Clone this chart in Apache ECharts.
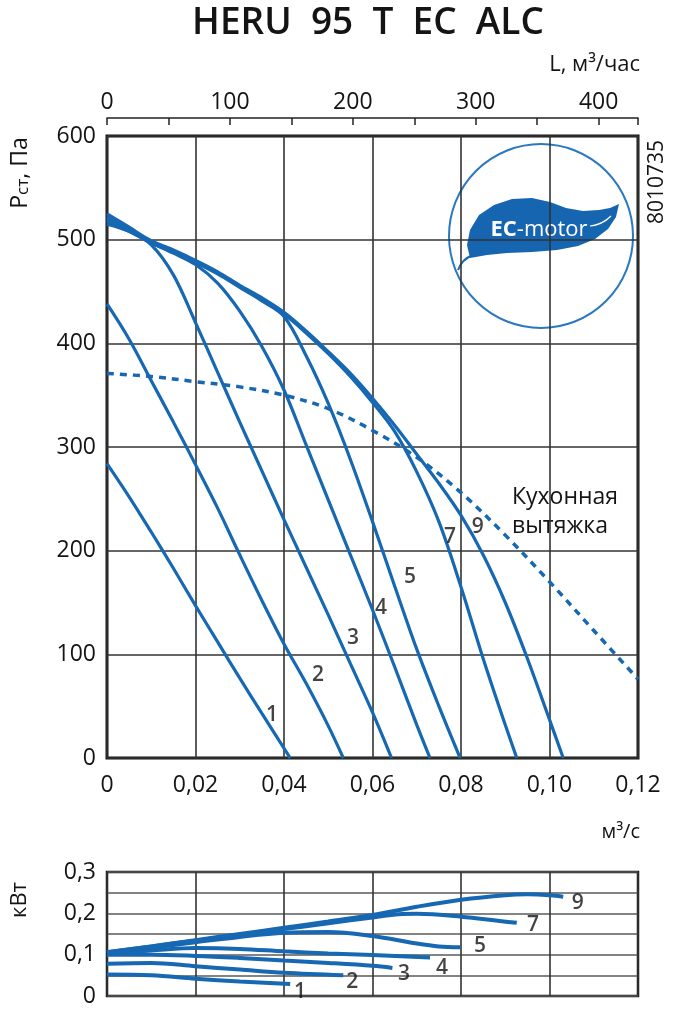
<!DOCTYPE html>
<html>
<head>
<meta charset="utf-8">
<script src="https://cdn.jsdelivr.net/npm/echarts@6/dist/echarts.min.js"></script>
<style>
  html, body { margin: 0; padding: 0; background: #fff; }
  #chart { width: 674px; height: 1022px; }
</style>
</head>
<body>
<div id="chart"></div>
<script>
// ===== HERU 95 T EC ALC fan curves =====

// static pressure, Pa vs flow, m3/s
const pressure1 = [[0, 284], [0.005, 252], [0.01, 218], [0.015, 183], [0.02, 147], [0.025, 112], [0.03, 77], [0.035, 43], [0.0414, 0]];
const pressure2 = [[0, 438], [0.005, 404], [0.01, 364], [0.015, 324], [0.02, 283], [0.025, 241], [0.03, 196], [0.035, 152], [0.04, 110], [0.045, 72], [0.05, 31], [0.0534, 0]];
const pressure3 = [[0, 515], [0.005, 508], [0.01, 495], [0.015, 466], [0.02, 420], [0.025, 372], [0.03, 324], [0.035, 277], [0.04, 230], [0.045, 184], [0.05, 138], [0.055, 91], [0.06, 44], [0.0643, 0]];
const pressure4 = [[0, 518], [0.005, 508], [0.01, 497], [0.015, 487], [0.02, 476], [0.025, 458], [0.03, 431], [0.035, 397], [0.04, 355], [0.045, 302], [0.05, 249], [0.055, 196], [0.06, 143], [0.065, 88], [0.07, 32], [0.073, 0]];
const pressure5 = [[0, 520], [0.005, 509], [0.01, 497], [0.015, 488], [0.02, 478], [0.025, 467], [0.03, 454], [0.035, 441], [0.04, 426], [0.045, 388], [0.05, 342], [0.055, 288], [0.06, 228], [0.065, 166], [0.07, 105], [0.075, 50], [0.0798, 0]];
const pressure7 = [[0, 522], [0.005, 510], [0.01, 498], [0.015, 489], [0.02, 479], [0.025, 468], [0.03, 455], [0.035, 442], [0.04, 428], [0.045, 410], [0.05, 390], [0.055, 368], [0.06, 343], [0.065, 315], [0.07, 276], [0.075, 228], [0.08, 165], [0.085, 96], [0.09, 32], [0.0926, 0]];
const pressure9 = [[0, 525], [0.005, 512], [0.01, 499], [0.015, 490], [0.02, 480], [0.025, 469], [0.03, 456], [0.035, 444], [0.04, 430], [0.045, 412], [0.05, 392], [0.055, 371], [0.06, 347], [0.065, 321], [0.07, 293], [0.075, 265], [0.08, 234], [0.085, 196], [0.09, 150], [0.095, 96], [0.1, 37], [0.1031, 0]];
const kitchenHood = [[0, 371], [0.01, 368], [0.02, 363], [0.03, 358], [0.04, 350], [0.05, 337], [0.06, 316], [0.07, 290], [0.08, 256], [0.09, 215], [0.1, 170], [0.11, 123], [0.12, 76]];

// power, kW vs flow, m3/s
const power1 = [[0, 0.052], [0.01, 0.05], [0.02, 0.042], [0.03, 0.035], [0.0414, 0.029]];
const power2 = [[0, 0.078], [0.01, 0.08], [0.02, 0.072], [0.03, 0.064], [0.04, 0.056], [0.0534, 0.05]];
const power3 = [[0, 0.1], [0.01, 0.1], [0.02, 0.097], [0.03, 0.092], [0.04, 0.086], [0.05, 0.08], [0.06, 0.073], [0.0645, 0.068]];
const power4 = [[0, 0.103], [0.01, 0.11], [0.02, 0.116], [0.03, 0.114], [0.04, 0.108], [0.05, 0.103], [0.06, 0.099], [0.073, 0.093]];
const power5 = [[0, 0.104], [0.01, 0.117], [0.02, 0.13], [0.03, 0.143], [0.04, 0.153], [0.05, 0.155], [0.06, 0.145], [0.07, 0.127], [0.075, 0.12], [0.0798, 0.118]];
const power7 = [[0, 0.106], [0.01, 0.12], [0.02, 0.134], [0.03, 0.148], [0.04, 0.162], [0.05, 0.176], [0.06, 0.19], [0.066, 0.198], [0.07, 0.199], [0.08, 0.192], [0.0926, 0.177]];
const power9 = [[0, 0.106], [0.01, 0.12], [0.02, 0.135], [0.03, 0.15], [0.04, 0.165], [0.05, 0.18], [0.06, 0.196], [0.07, 0.216], [0.08, 0.233], [0.09, 0.244], [0.095, 0.246], [0.1, 0.244], [0.1031, 0.24]];

// curve number labels (data coords)
const pressureLabels = [['1', 0.0373, 41], ['2', 0.0477, 80], ['3', 0.0556, 116], ['4', 0.0619, 145], ['5', 0.0685, 175], ['7', 0.0775, 213], ['9', 0.0838, 223]];
const powerLabels = [['1', 0.0436, 0.010], ['2', 0.0554, 0.034], ['3', 0.0671, 0.053], ['4', 0.0757, 0.068], ['5', 0.0843, 0.122], ['7', 0.0963, 0.172], ['9', 0.1064, 0.225]];

const FONT = '"Open Sans", "DejaVu Sans", sans-serif';
const BLUE = '#1768b2';
const TEXT = '#141414';
const GRID_COLOR = '#333';

function flowLabel(v) {
  if (v === 0) return '0';
  return v.toFixed(2).replace('.', ',');
}

function curve(data, xi, yi, width) {
  return {
    type: 'line', data: data, xAxisIndex: xi, yAxisIndex: yi,
    smooth: 0.35, showSymbol: false, silent: true,
    lineStyle: { color: BLUE, width: width }, z: 3
  };
}

function numberSeries(list, xi, yi) {
  return {
    type: 'scatter', xAxisIndex: xi, yAxisIndex: yi, symbolSize: 1, silent: true,
    itemStyle: { color: 'rgba(0,0,0,0)' },
    label: { show: true, position: 'inside', formatter: '{b}', color: TEXT, fontSize: 21, fontFamily: FONT, fontWeight: 600, textBorderWidth: 0 },
    data: list.map(d => ({ name: d[0], value: [d[1], d[2]] })), z: 5
  };
}

function rotText(text, x, y, size, rich) {
  return {
    type: 'text', x: x, y: y, rotation: Math.PI / 2,
    style: { text: text, x: 0, y: 0, fill: TEXT, font: size + 'px ' + FONT, textAlign: 'center', textVerticalAlign: 'middle', rich: rich }
  };
}

const chart = echarts.init(document.getElementById('chart'));

const option = {
  animation: false,
  backgroundColor: '#fff',
  grid: [
    { left: 107, top: 136, width: 531, height: 622, show: true, borderColor: '#111', borderWidth: 3, backgroundColor: 'transparent' },
    { left: 107, top: 872, width: 531, height: 124, show: true, borderColor: '#111', borderWidth: 2.5, backgroundColor: 'transparent' }
  ],
  xAxis: [
    {
      gridIndex: 0, type: 'value', min: 0, max: 0.12, interval: 0.02,
      axisLine: { show: false }, axisTick: { show: false },
      axisLabel: { formatter: flowLabel, fontSize: 23, fontFamily: FONT, color: TEXT, margin: 16 },
      splitLine: { show: true, lineStyle: { color: GRID_COLOR, width: 1.6 } }
    },
    {
      gridIndex: 0, type: 'value', position: 'top', offset: 18, min: 0, max: 432, interval: 50,
      axisLine: { show: true, lineStyle: { color: '#222', width: 1.5 } },
      axisTick: { show: true, inside: true, length: 7, lineStyle: { color: '#222', width: 1.5 } },
      axisLabel: { formatter: v => (v % 100 === 0 ? String(v) : ''), fontSize: 23, fontFamily: FONT, color: TEXT, margin: 4 },
      splitLine: { show: false }
    },
    {
      gridIndex: 1, type: 'value', min: 0, max: 0.12, interval: 0.02,
      axisLine: { show: false }, axisTick: { show: false }, axisLabel: { show: false },
      splitLine: { show: true, lineStyle: { color: GRID_COLOR, width: 1.6 } }
    }
  ],
  yAxis: [
    {
      gridIndex: 0, type: 'value', min: 0, max: 600, interval: 100,
      axisLine: { show: false }, axisTick: { show: false },
      axisLabel: { fontSize: 23, fontFamily: FONT, color: TEXT, margin: 11 },
      splitLine: { show: true, lineStyle: { color: GRID_COLOR, width: 1.6 } }
    },
    {
      gridIndex: 1, type: 'value', min: 0, max: 0.3, interval: 0.05,
      axisLine: { show: false }, axisTick: { show: false },
      axisLabel: {
        fontSize: 23, fontFamily: FONT, color: TEXT, margin: 11,
        formatter: v => {
          const k = Math.round(v * 100);
          if (k % 10 !== 0) return '';
          return k === 0 ? '0' : (k / 100).toFixed(1).replace('.', ',');
        }
      },
      splitLine: { show: true, lineStyle: { color: '#5a5a5a', width: 1.6 } }
    }
  ],
  series: [
    curve(pressure1, 0, 0, 3.2),
    curve(pressure2, 0, 0, 3.2),
    curve(pressure3, 0, 0, 3.2),
    curve(pressure4, 0, 0, 3.2),
    curve(pressure5, 0, 0, 3.2),
    curve(pressure7, 0, 0, 3.2),
    curve(pressure9, 0, 0, 3.2),
    {
      type: 'line', data: kitchenHood, xAxisIndex: 0, yAxisIndex: 0,
      smooth: 0.35, showSymbol: false, silent: true,
      lineStyle: { color: BLUE, width: 3.5, type: [7, 6] }, z: 3
    },
    curve(power1, 2, 1, 4),
    curve(power2, 2, 1, 4),
    curve(power3, 2, 1, 4),
    curve(power4, 2, 1, 4),
    curve(power5, 2, 1, 4),
    curve(power7, 2, 1, 4),
    curve(power9, 2, 1, 4),
    numberSeries(pressureLabels, 0, 0),
    numberSeries(powerLabels, 2, 1)
  ],
  graphic: [
    {
      type: 'text', x: 368, y: 23,
      style: { text: 'HERU  95  T  EC  ALC', fill: TEXT, font: '600 37px ' + FONT, textAlign: 'center', textVerticalAlign: 'middle' }
    },
    {
      type: 'text', x: 640, y: 65,
      style: { text: 'L, м³/час', fill: TEXT, font: '22px ' + FONT, textAlign: 'right', textVerticalAlign: 'middle' }
    },
    rotText('{p|P}{s|ст}{p|, Па}', 20, 173, 23, {
      p: { fill: TEXT, font: '23px ' + FONT, verticalAlign: 'bottom' },
      s: { fill: TEXT, font: '17px ' + FONT, verticalAlign: 'bottom' }
    }),
    rotText('8010735', 657, 182, 21),
    rotText('кВт', 20, 900, 22),
    {
      type: 'text', x: 640, y: 832,
      style: { text: 'м³/с', fill: TEXT, font: '20px ' + FONT, textAlign: 'right', textVerticalAlign: 'middle' }
    },
    {
      type: 'text', x: 512, y: 497,
      style: { text: 'Кухонная', fill: TEXT, font: '23px ' + FONT, textAlign: 'left', textVerticalAlign: 'middle' }
    },
    {
      type: 'text', x: 512, y: 526,
      style: { text: 'вытяжка', fill: TEXT, font: '23px ' + FONT, textAlign: 'left', textVerticalAlign: 'middle' }
    },
    // EC-motor badge
    {
      type: 'group', z: 10,
      children: [
        { type: 'circle', shape: { cx: 541, cy: 236, r: 92 }, style: { fill: '#fff', stroke: '#2a78c0', lineWidth: 2 } },
        {
          type: 'polygon',
          shape: {
            points: [[470, 258], [467, 245], [470, 230], [479, 215], [494, 205], [512, 199], [532, 198], [550, 202], [566, 208], [583, 211], [599, 210], [610, 208], [619, 204],
              [616, 217], [608, 229], [595, 239], [578, 246], [557, 250], [532, 252], [507, 253], [487, 255]]
          },
          style: { fill: '#1565b0' }
        },
        {
          type: 'bezierCurve',
          shape: { x1: 473, y1: 255, cpx1: 462, cpy1: 259, x2: 458, y2: 270 },
          style: { fill: null, stroke: '#1565b0', lineWidth: 2 }
        },
        {
          type: 'bezierCurve',
          shape: { x1: 590, y1: 226, cpx1: 602, cpy1: 225, x2: 611, y2: 216 },
          style: { fill: null, stroke: '#fff', lineWidth: 1.2 }
        },
        {
          type: 'text', x: 539, y: 230,
          style: {
            text: '{b|EC}{r|-motor}', textAlign: 'center', textVerticalAlign: 'middle',
            rich: {
              b: { fill: '#fff', font: '700 22px ' + FONT },
              r: { fill: '#fff', font: '22px ' + FONT }
            }
          }
        }
      ]
    }
  ]
};

chart.setOption(option);
</script>
</body>
</html>
